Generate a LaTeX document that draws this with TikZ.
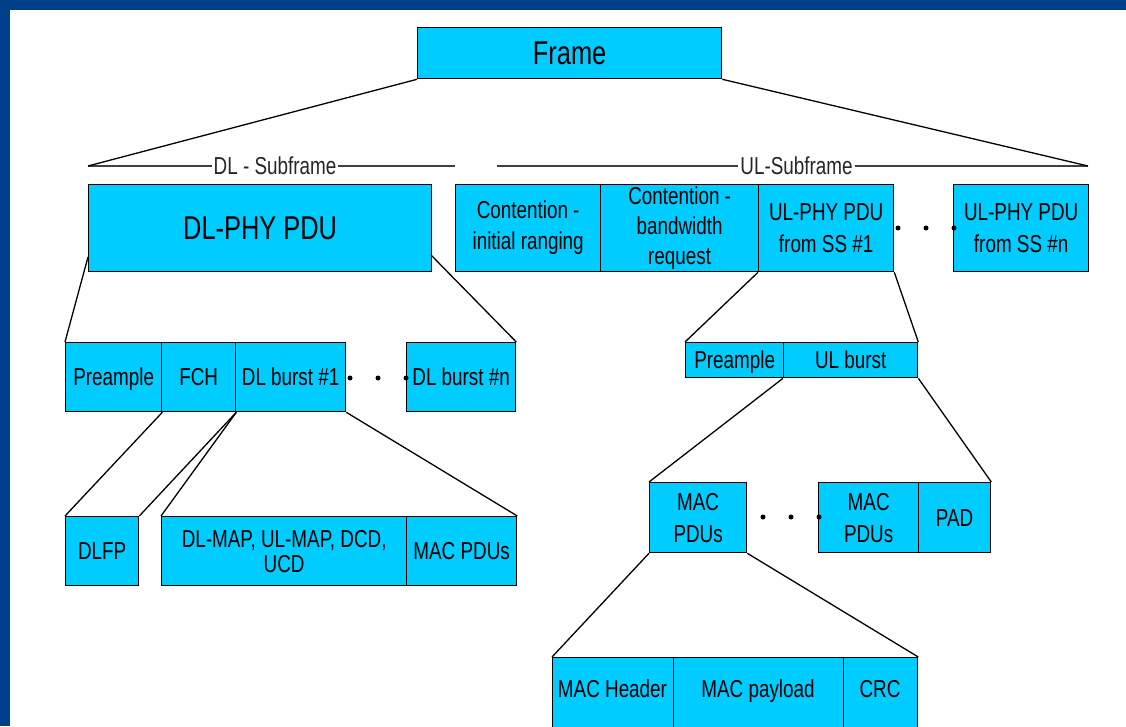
\documentclass[tikz,border=0pt]{standalone}
\usepackage{fontspec}
\setmainfont{Liberation Sans}[FakeStretch=0.77]
\definecolor{cellfill}{HTML}{00CCFF}
\definecolor{frameblue}{HTML}{00408A}
\tikzset{
  cell/.style={draw=black, line width=1.3pt, fill=cellfill, inner sep=0pt, anchor=north west,
    align=center, font=\fontsize{24.5}{31}\selectfont, text=black},
  oneline/.style={text height=17.5pt, text depth=0pt},
  bigtext/.style={font=\fontsize{33}{38}\selectfont, text height=23.6pt, text depth=0pt},
  plaintext/.style={inner sep=0pt, align=center, font=\fontsize{24.5}{31}\selectfont, text=black, text height=17.5pt, text depth=0pt},
  conn/.style={line width=1.3pt, black},
  subline/.style={line width=1.3pt, black!75},
  sublabel/.style={fill=white, inner sep=2pt, font=\fontsize{24.5}{28}\selectfont, text=black!85},
  dotm/.style={circle, fill=black, inner sep=0pt, minimum size=5pt},
}
\begin{document}
\begin{tikzpicture}[x=1pt,y=-1pt]
\useasboundingbox (0,0) rectangle (1126,726);
\clip (0,0) rectangle (1126,726);
\fill[frameblue] (0,0) rectangle (1126,10);
\fill[frameblue] (0,0) rectangle (10,726);

% top
\node[cell,bigtext,minimum width=304pt,minimum height=51pt] (frame) at (417,27) {Frame};

% subframe lines
\coordinate (dlA) at (88,166);
\coordinate (dlB) at (455,166);
\coordinate (ulA) at (497,166);
\coordinate (ulB) at (1088,166);
\draw[subline] (dlA) -- (dlB);
\draw[subline] (ulA) -- (ulB);
\node[sublabel] (dllab) at (275,166) {DL - Subframe};
\node[sublabel] (ullab) at (796.5,166) {UL-Subframe};
\draw[conn] (frame.south west) -- (dlA);
\draw[conn] (frame.south east) -- (ulB);

% level 1
\node[cell,bigtext,minimum width=343pt,minimum height=87pt] (dlphy) at (88,184) {DL-PHY PDU};
\node[cell,minimum width=145pt,minimum height=87pt,font=\fontsize{24.5}{31}\selectfont] (cir) at (455,184) {Contention -\\initial ranging};
\node[cell,minimum width=158pt,minimum height=87pt,font=\fontsize{24.5}{30}\selectfont] (cbr) at (600,184) {Contention -\\bandwidth\\request};
\node[cell,minimum width=135pt,minimum height=87pt,font=\fontsize{24.5}{32}\selectfont] (ul1) at (758,184) {UL-PHY PDU\\from SS \#1};
\node[cell,minimum width=135pt,minimum height=87pt,font=\fontsize{24.5}{32}\selectfont] (uln) at (953,184) {UL-PHY PDU\\from SS \#n};
\node[dotm] (ud1) at (898,228) {};
\node[dotm] (ud2) at (926,228) {};
\node[dotm] (ud3) at (954,228) {};

% DL level 2
\node[cell,oneline,minimum width=96pt,minimum height=69pt] (pre) at (65,342) {Preample};
\node[cell,oneline,minimum width=74pt,minimum height=69pt] (fch) at (161,342) {FCH};
\node[cell,oneline,minimum width=110pt,minimum height=69pt] (dlb1) at (235,342) {DL burst \#1};
\node[cell,oneline,minimum width=109pt,minimum height=69pt] (dlbn) at (406,342) {DL burst \#n};
\node[dotm] (dd1) at (350,378) {};
\node[dotm] (dd2) at (378,378) {};
\node[dotm] (dd3) at (406,378) {};
\coordinate (dlL) at (88,257);
\coordinate (dlR) at (431,255);
\draw[conn] (dlL) -- (pre.north west);
\draw[conn] (dlR) -- (dlbn.north east);

% DL level 3
\node[cell,oneline,minimum width=73pt,minimum height=69pt] (dlfp) at (65,516) {DLFP};
\node[cell,minimum width=245pt,minimum height=69pt,font=\fontsize{24.5}{25}\selectfont] (maps) at (161,516) {DL-MAP, UL-MAP, DCD,\\UCD};
\node[cell,oneline,minimum width=110pt,minimum height=69pt] (macd) at (406,516) {MAC PDUs};
\draw[conn] (pre.south east) -- (dlfp.north west);
\draw[conn] (fch.south east) -- (dlfp.north east);
\draw[conn] (fch.south east) -- (maps.north west);
\draw[conn] (dlb1.south east) -- (macd.north east);

% UL level 2
\node[cell,oneline,minimum width=98pt,minimum height=35pt] (ulpre) at (685,342) {Preample};
\node[cell,oneline,minimum width=134pt,minimum height=35pt] (ulb) at (783,342) {UL burst};
\draw[conn] (ul1.south west) -- (ulpre.north west);
\draw[conn] (ul1.south east) -- (ulb.north east);

% UL level 3
\node[cell,minimum width=97pt,minimum height=70pt,font=\fontsize{24.5}{32}\selectfont] (mac1) at (649,482) {MAC\\PDUs};
\node[cell,minimum width=100pt,minimum height=70pt,font=\fontsize{24.5}{32}\selectfont] (mac2) at (818,482) {MAC\\PDUs};
\node[cell,oneline,minimum width=72pt,minimum height=70pt] (pad) at (918,482) {PAD};
\node[dotm] (md1) at (763,517) {};
\node[dotm] (md2) at (791,517) {};
\node[dotm] (md3) at (819,517) {};
\draw[conn] (ulb.south west) -- (mac1.north west);
\draw[conn] (ulb.south east) -- (pad.north east);

% UL level 4
\node[cell,minimum width=121pt,minimum height=100pt] (hdr) at (552,657) {};
\node[cell,minimum width=170pt,minimum height=100pt] (pay) at (673,657) {};
\node[cell,minimum width=74pt,minimum height=100pt] (crc) at (843,657) {};
\node[plaintext] (hdrT) at (612.5,689) {MAC Header};
\node[plaintext] (payT) at (758,689) {MAC payload};
\node[plaintext] (crcT) at (880,689) {CRC};
\draw[conn] (mac1.south west) -- (hdr.north west);
\draw[conn] (mac1.south east) -- (crc.north east);
\end{tikzpicture}
\end{document}
